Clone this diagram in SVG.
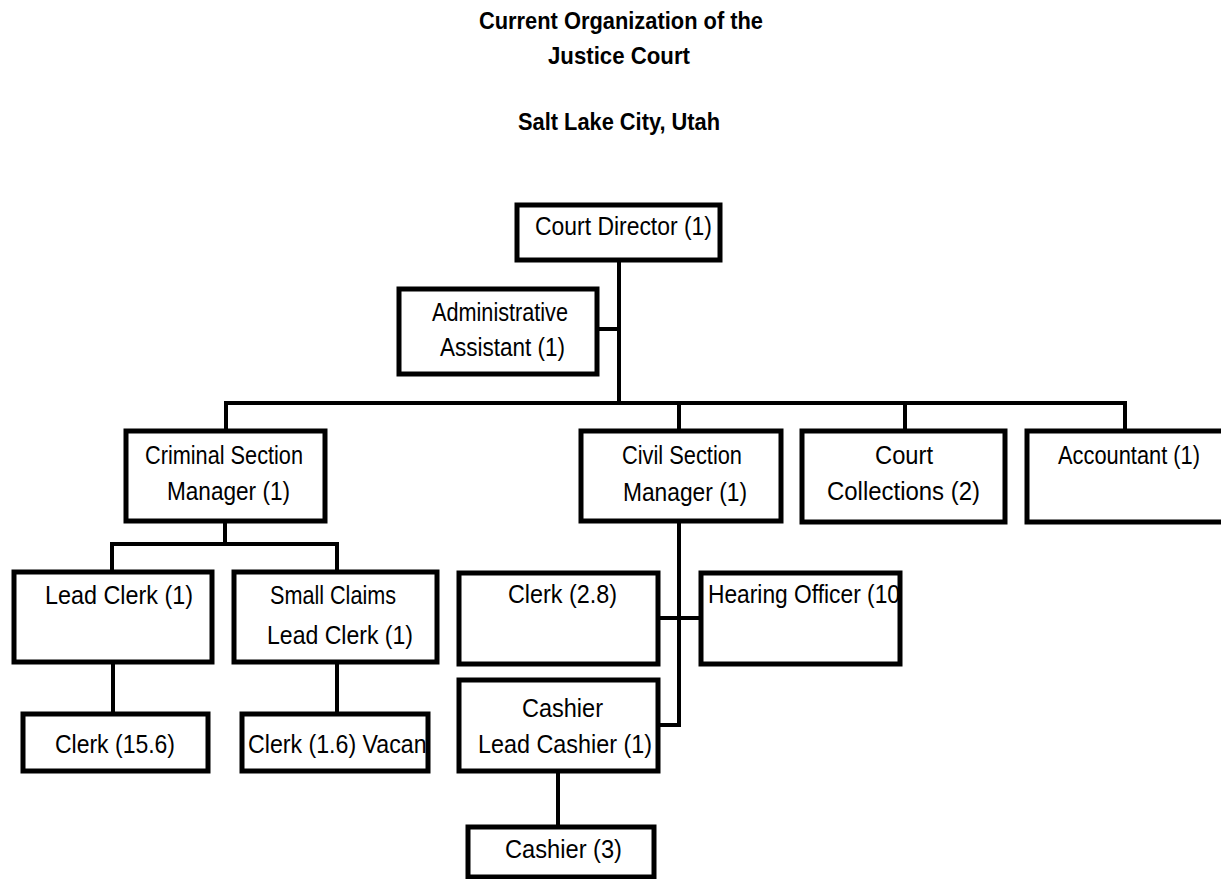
<svg xmlns="http://www.w3.org/2000/svg" width="1221" height="879" viewBox="0 0 1221 879">
<style>
.box{fill:#fff;stroke:#000;stroke-width:5}
.conn{fill:none;stroke:#000;stroke-width:4}
.t{font-family:"Liberation Sans",Arial,sans-serif;font-size:26px;fill:#000}
.title{font-family:"Liberation Sans",Arial,sans-serif;font-size:24px;font-weight:bold;fill:#000}
</style>
<defs>
<clipPath id="clipHear"><rect x="700" y="570" width="198" height="100"/></clipPath>
<clipPath id="clipVac"><rect x="240" y="710" width="186" height="70"/></clipPath>
</defs>
<rect width="1221" height="879" fill="#fff"/>
<g id="title">
<text class="title" x="479" y="29" textLength="284" lengthAdjust="spacingAndGlyphs">Current Organization of the</text>
<text class="title" x="548" y="64" textLength="142" lengthAdjust="spacingAndGlyphs">Justice Court</text>
<text class="title" x="518" y="130" textLength="202" lengthAdjust="spacingAndGlyphs">Salt Lake City, Utah</text>
</g>
<g id="connectors">
<path class="conn" d="M619 260 V403"/>
<path class="conn" d="M597 329 H619"/>
<path class="conn" d="M226 431 V403 H1125 V431"/>
<path class="conn" d="M679 403 V431"/>
<path class="conn" d="M905 403 V431"/>
<path class="conn" d="M225 521 V544"/>
<path class="conn" d="M112 572 V544 H337 V572"/>
<path class="conn" d="M113 662 V714"/>
<path class="conn" d="M337 662 V714"/>
<path class="conn" d="M679 521 V725 H658"/>
<path class="conn" d="M658 618 H701"/>
<path class="conn" d="M558 771 V827"/>
</g>
<g id="court-director">
<rect class="box" x="517" y="205" width="203" height="55"/>
<text class="t" x="535" y="235" textLength="177" lengthAdjust="spacingAndGlyphs">Court Director (1)</text>
</g>
<g id="admin-assistant">
<rect class="box" x="399" y="289" width="198" height="85"/>
<text class="t" x="432" y="321" textLength="136" lengthAdjust="spacingAndGlyphs">Administrative</text>
<text class="t" x="440" y="356" textLength="125" lengthAdjust="spacingAndGlyphs">Assistant (1)</text>
</g>
<g id="criminal-manager">
<rect class="box" x="126" y="431" width="199" height="90"/>
<text class="t" x="145" y="464" textLength="158" lengthAdjust="spacingAndGlyphs">Criminal Section</text>
<text class="t" x="167" y="500" textLength="123" lengthAdjust="spacingAndGlyphs">Manager (1)</text>
</g>
<g id="civil-manager">
<rect class="box" x="581" y="431" width="200" height="90"/>
<text class="t" x="622" y="464" textLength="120" lengthAdjust="spacingAndGlyphs">Civil Section</text>
<text class="t" x="623" y="501" textLength="124" lengthAdjust="spacingAndGlyphs">Manager (1)</text>
</g>
<g id="court-collections">
<rect class="box" x="802" y="431" width="203" height="91"/>
<text class="t" x="875" y="464" textLength="58" lengthAdjust="spacingAndGlyphs">Court</text>
<text class="t" x="827" y="500" textLength="153" lengthAdjust="spacingAndGlyphs">Collections (2)</text>
</g>
<g id="accountant">
<rect class="box" x="1027" y="431" width="213" height="91"/>
<text class="t" x="1058" y="464" textLength="142" lengthAdjust="spacingAndGlyphs">Accountant (1)</text>
</g>
<g id="lead-clerk">
<rect class="box" x="14" y="572" width="198" height="90"/>
<text class="t" x="45" y="604" textLength="148" lengthAdjust="spacingAndGlyphs">Lead Clerk (1)</text>
</g>
<g id="small-claims-lead-clerk">
<rect class="box" x="234" y="572" width="203" height="90"/>
<text class="t" x="270" y="604" textLength="126" lengthAdjust="spacingAndGlyphs">Small Claims</text>
<text class="t" x="267" y="644" textLength="146" lengthAdjust="spacingAndGlyphs">Lead Clerk (1)</text>
</g>
<g id="clerk-2-8">
<rect class="box" x="459" y="573" width="199" height="91"/>
<text class="t" x="508" y="603" textLength="109" lengthAdjust="spacingAndGlyphs">Clerk (2.8)</text>
</g>
<g id="hearing-officer">
<rect class="box" x="701" y="573" width="199" height="91"/>
<text class="t" x="708" y="603" textLength="192" lengthAdjust="spacingAndGlyphs" clip-path="url(#clipHear)">Hearing Officer (10</text>
</g>
<g id="lead-cashier">
<rect class="box" x="459" y="680" width="199" height="91"/>
<text class="t" x="522" y="717" textLength="81" lengthAdjust="spacingAndGlyphs">Cashier</text>
<text class="t" x="478" y="753" textLength="174" lengthAdjust="spacingAndGlyphs">Lead Cashier (1)</text>
</g>
<g id="clerk-15-6">
<rect class="box" x="23" y="714" width="185" height="57"/>
<text class="t" x="55" y="753" textLength="120" lengthAdjust="spacingAndGlyphs">Clerk (15.6)</text>
</g>
<g id="clerk-1-6">
<rect class="box" x="242" y="714" width="186" height="57"/>
<text class="t" x="248" y="753" textLength="185" lengthAdjust="spacingAndGlyphs" clip-path="url(#clipVac)">Clerk (1.6) Vacant</text>
</g>
<g id="cashier">
<rect class="box" x="468" y="827" width="186" height="50"/>
<text class="t" x="505" y="858" textLength="117" lengthAdjust="spacingAndGlyphs">Cashier (3)</text>
</g>
</svg>
